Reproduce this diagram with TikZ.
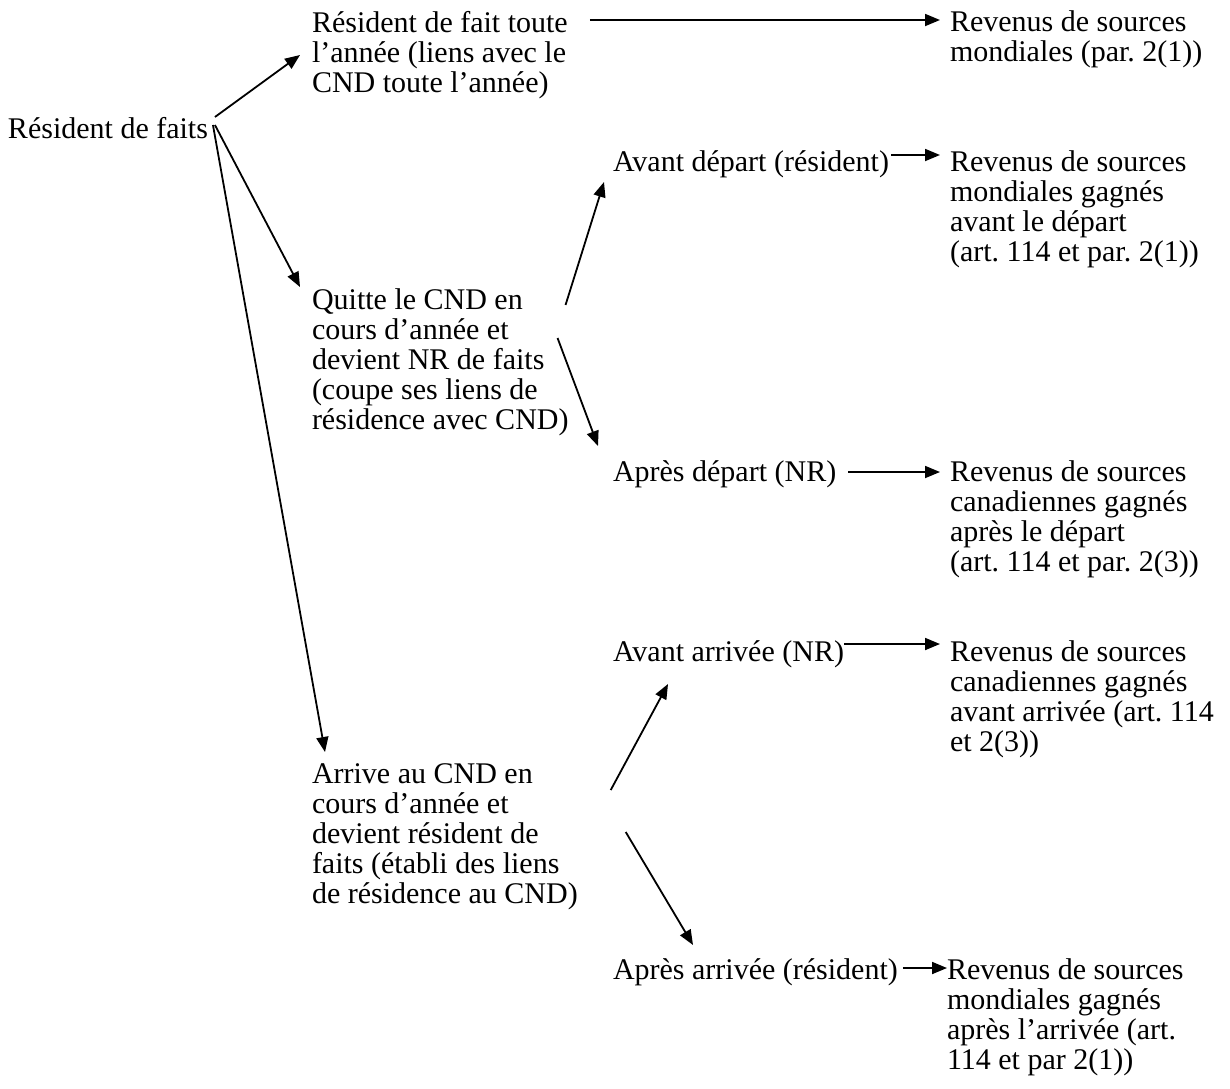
\documentclass[tikz,border=0pt]{standalone}
\usepackage{fontspec}
\setmainfont{Liberation Serif}
\usetikzlibrary{arrows.meta,calc}
\frenchspacing
\begin{document}
\begin{tikzpicture}[x=1pt,y=-1pt,
  txt/.style={anchor=north west,inner sep=0pt,outer sep=0pt,align=left,
    font=\fontsize{30}{30}\selectfont\frenchspacing},
  arr/.style={line width=1.8pt,-{Triangle[length=15pt,width=12pt]}}]
\useasboundingbox (0,0) rectangle (1230,1088);
\fill[white] (0,0) rectangle (1230,1088);
\node[txt] (A) at (8,117) {Résident de faits};
\node[txt] (B) at (312,11) {Résident de fait toute\\l’année (liens avec le\\CND toute l’année)};
\node[txt] (C) at (950,11) {Revenus de sources\\mondiales (par. 2(1))};
\node[txt] (D) at (312,289) {Quitte le CND en\\cours d’année et\\devient NR de faits\\(coupe ses liens de\\résidence avec CND)};
\node[txt] (E) at (613,151) {Avant départ (résident)};
\node[txt] (F) at (950,151) {Revenus de sources\\mondiales gagnés\\avant le départ\\(art. 114 et par. 2(1))};
\node[txt] (G) at (613,461) {Après départ (NR)};
\node[txt] (H) at (950,461) {Revenus de sources\\canadiennes gagnés\\après le départ\\(art. 114 et par. 2(3))};
\node[txt] (I) at (613,641) {Avant arrivée (NR)};
\node[txt] (J) at (950,641) {Revenus de sources\\canadiennes gagnés\\avant arrivée (art. 114\\et 2(3))};
\node[txt] (K) at (312,764) {Arrive au CND en\\cours d’année et\\devient résident de\\faits (établi des liens\\de résidence au CND)};
\node[txt] (L) at (613,959) {Après arrivée (résident)};
\node[txt] (M) at (947,959) {Revenus de sources\\mondiales gagnés\\après l’arrivée (art.\\114 et par 2(1))};
% connectors
\draw[arr] ($(A.north east)+(7,0)$) -- ($(B.north west)+(-12,44)$);
\draw[arr] ($(A.north east)+(7,8)$) -- ($(D.north west)+(-12,-2)$);
\draw[arr] ($(A.north east)+(5,8)$) -- ($(K.north west)+(13,-12)$);
\draw[arr] ($(B.north east)+(22,9)$) -- ($(C.north west)+(-10,9)$);
\draw[arr] ($(D.north east)+(-3,16)$) -- ($(E.north west)+(-9,31)$);
\draw[arr] ($(D.north east)+(-11,49)$) -- ($(G.north west)+(-15,-15)$);
\draw[arr] ($(E.north east)+(2,4)$) -- ($(F.north west)+(-10,4)$);
\draw[arr] ($(G.north east)+(12,11)$) -- ($(H.north west)+(-10,11)$);
\draw[arr] ($(I.north east)+(0,3)$) -- ($(J.north west)+(-10,3)$);
\draw[arr] ($(K.north east)+(33,26)$) -- ($(I.north west)+(55,43)$);
\draw[arr] ($(K.north east)+(48,68)$) -- ($(L.north west)+(80,-14)$);
\draw[arr] ($(L.north east)+(5,9)$) -- ($(M.north west)+(0,9)$);
\end{tikzpicture}
\end{document}
